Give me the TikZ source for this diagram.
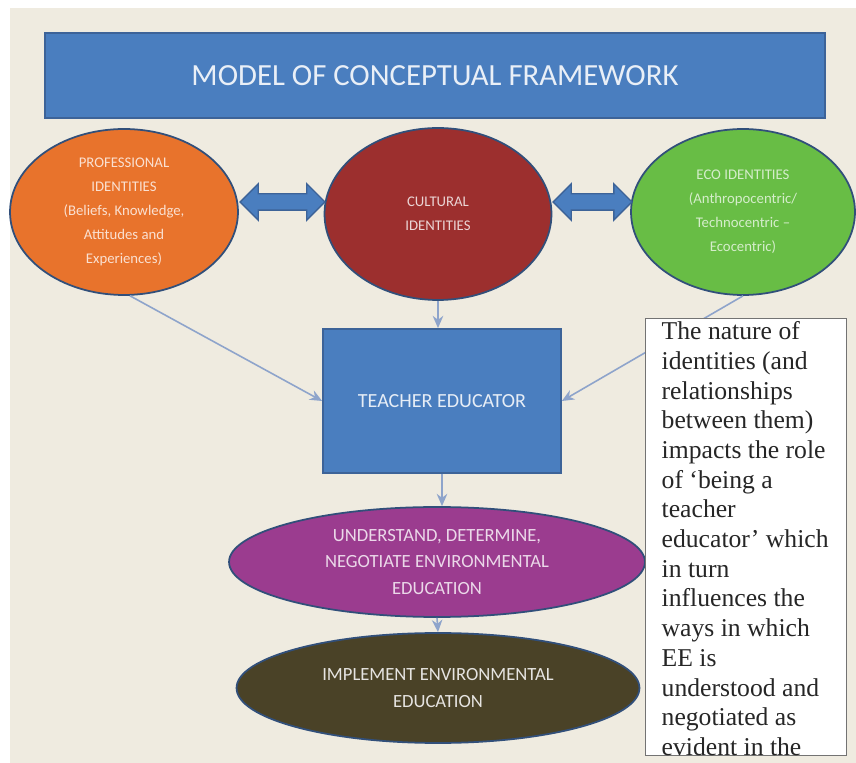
\documentclass[tikz,border=0pt]{standalone}
\usepackage{fontspec}
\setmainfont{Carlito}
\newfontfamily\notefont{Liberation Serif}
\usetikzlibrary{shapes.geometric, shapes.arrows, arrows.meta}
\definecolor{paper}{HTML}{EFEBE0}
\definecolor{boxblue}{HTML}{4A7EBF}
\definecolor{edgeblue}{HTML}{3D6398}
\definecolor{profcol}{HTML}{E8732C}
\definecolor{cultcol}{HTML}{9C2F2E}
\definecolor{ecocol}{HTML}{68BD45}
\definecolor{purpcol}{HTML}{9B3C8F}
\definecolor{darkcol}{HTML}{4A4227}
\definecolor{linkcol}{HTML}{8EA4CB}
\tikzset{
	banner/.style={draw=edgeblue, line width=1pt, fill=boxblue, inner sep=0pt},
	idnode/.style={draw=edgeblue!80!black, ellipse, line width=1pt, inner sep=0pt, align=center, font=\fontsize{8.4}{13.6}\selectfont},
	stepnode/.style={draw=edgeblue!80!black, ellipse, line width=1pt, inner sep=0pt, align=center, font=\fontsize{10.6}{15}\selectfont},
	twoway/.style={double arrow, draw=edgeblue, fill=boxblue, line width=0.8pt, inner xsep=0pt, inner ysep=0.15cm, double arrow head extend=0.2cm},
	link/.style={draw=linkcol, line width=0.9pt, -{Stealth[length=7pt, width=6pt]}},
}

\begin{document}
\begin{tikzpicture}[x=0.02cm, y=-0.02cm]
	\useasboundingbox (0,0) rectangle (856,763);
	\fill [paper] (10,8) rectangle (856,763);

	\node (title) [banner, minimum width=15.6cm, minimum height=1.7cm] at (435,75.5)
		{\fontsize{17.5}{20}\selectfont\color{white!88!boxblue}MODEL OF CONCEPTUAL FRAMEWORK};

	% the three identities
	\node (prof) [idnode, fill=profcol, text=white!78!profcol, minimum width=4.56cm, minimum height=3.32cm] at (124,212)
		{PROFESSIONAL\\IDENTITIES\\(Beliefs, Knowledge,\\Attitudes and\\Experiences)};
	\node (cult) [idnode, fill=cultcol, text=white!80!cultcol, minimum width=4.54cm, minimum height=3.44cm] at (438,214)
		{CULTURAL\\IDENTITIES};
	\node (eco) [idnode, fill=ecocol, text=white!72!ecocol, minimum width=4.48cm, minimum height=3.32cm] at (743,212)
		{ECO IDENTITIES\\(Anthropocentric/\\Technocentric --\\Ecocentric)};

	\node (arrL) [twoway, minimum height=1.7cm] at (282.5,202) {};
	\node (arrR) [twoway, minimum height=1.58cm] at (592.5,202) {};

	\node (teach) [banner, minimum width=4.76cm, minimum height=2.88cm] at (442,401)
		{\fontsize{11.4}{14}\selectfont\color{white!86!boxblue}\raisebox{-3pt}{TEACHER EDUCATOR}};

	\node (purp) [stepnode, fill=purpcol, text=white!80!purpcol, minimum width=8.32cm, minimum height=2.2cm] at (437,562)
		{UNDERSTAND, DETERMINE,\\NEGOTIATE ENVIRONMENTAL\\EDUCATION};
	\node (dark) [stepnode, fill=darkcol, text=white!86!darkcol, minimum width=8.06cm, minimum height=2.2cm] at (438,688)
		{IMPLEMENT ENVIRONMENTAL\\EDUCATION};

	\begin{scope}
		\draw [link] (cult.south) -- (cult.south |- teach.north);
		\draw [link] (prof.-86) -- (teach.west);
		\draw [link] (eco.south) -- (teach.east);
		\draw [link] (teach.south) -- (purp.north -| teach.south);
		\draw [link] (purp.south) -- (dark.north);
	\end{scope}

	% side note, laid over the link from the eco identities
	\node (note) [draw=black!55, fill=white, line width=0.8pt, anchor=north west, inner xsep=3.2mm, inner ysep=0.6mm] at (645,318)
		{\parbox[t][8.62cm][t]{3.38cm}{\notefont\fontsize{14.6}{16.9}\selectfont\color{black!85}\raggedright
		The nature of\\identities (and\\relationships\\between them)\\impacts the role\\of ‘being a\\teacher\\educator’ which\\in turn\\influences the\\ways in which\\EE is\\understood and\\negotiated as\\evident in the}};
\end{tikzpicture}
\end{document}
